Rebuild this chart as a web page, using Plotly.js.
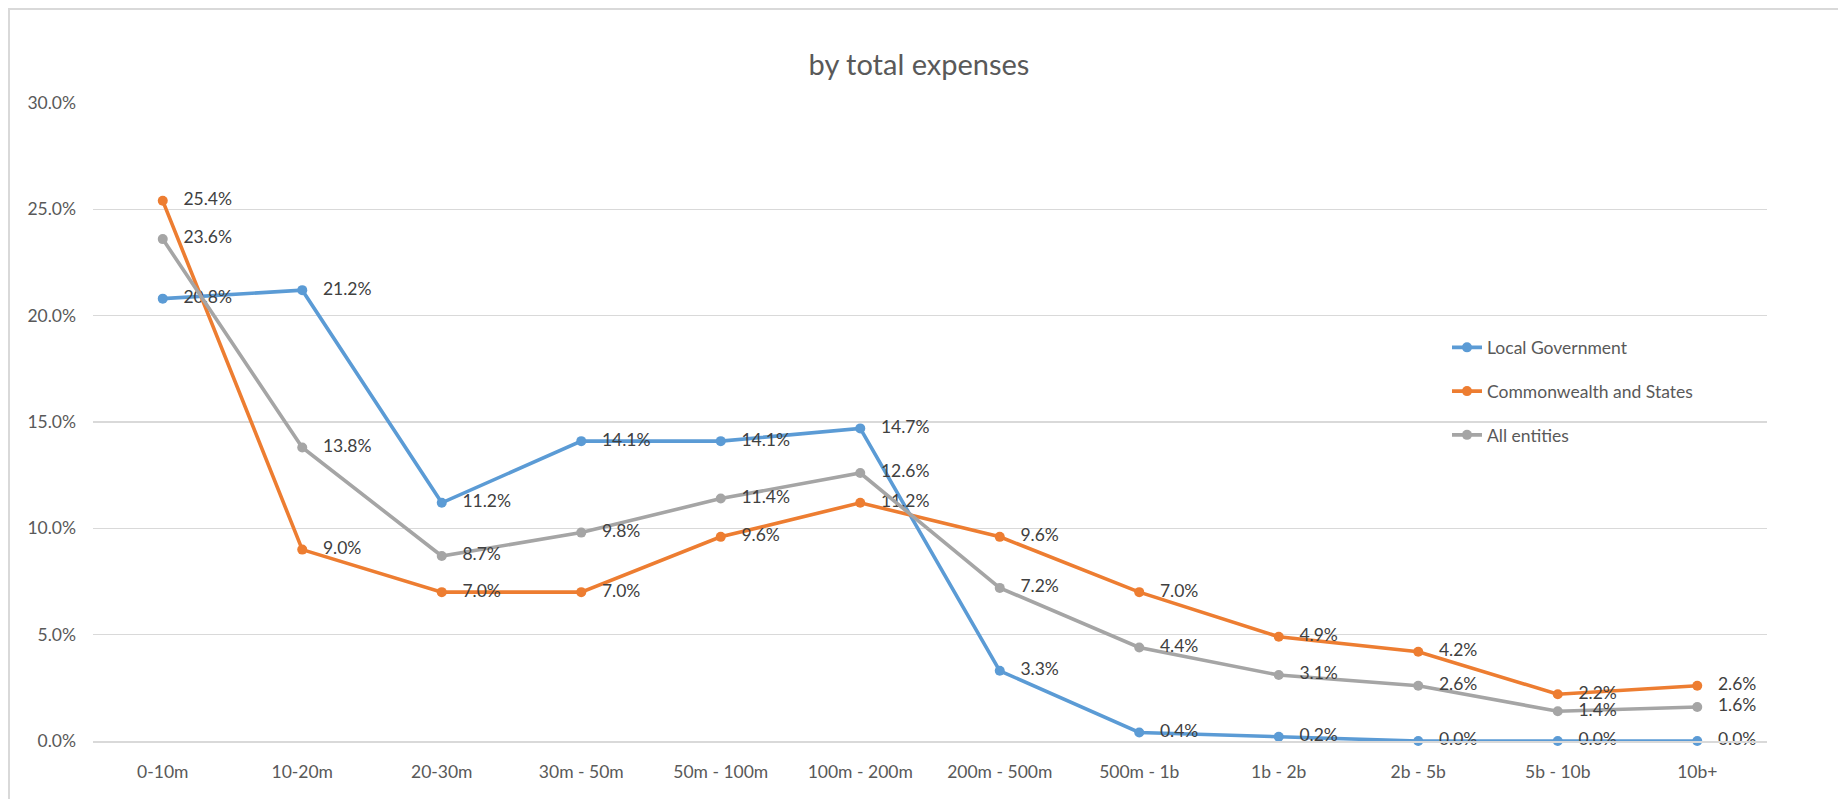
<!DOCTYPE html>
<html>
<head>
<meta charset="utf-8">
<script src="https://cdn.plot.ly/plotly-3.0.1.min.js"></script>
<style>
  html, body { margin: 0; padding: 0; background: #ffffff; }
  #wrap { position: relative; width: 1838px; height: 799px; overflow: hidden; }
  #chart { width: 1838px; height: 799px; }
  #frame { position: absolute; left: 8px; top: 8px; width: 1900px; height: 900px;
           border-left: 2px solid #d9d9d9; border-top: 2px solid #d9d9d9; pointer-events: none; }
</style>
</head>
<body>
<div id="wrap">
  <div id="chart"></div>
  <div id="frame"></div>
</div>
<script>
// Expense bands (x axis categories)
const categories = ["0-10m", "10-20m", "20-30m", "30m - 50m", "50m - 100m", "100m - 200m",
                    "200m - 500m", "500m - 1b", "1b - 2b", "2b - 5b", "5b - 10b", "10b+"];

// Share of entities in each band, in percent
const localGovernment = [20.8, 21.2, 11.2, 14.1, 14.1, 14.7, 3.3, 0.4, 0.2, 0.0, 0.0, 0.0];
const commonwealthStates = [25.4, 9.0, 7.0, 7.0, 9.6, 11.2, 9.6, 7.0, 4.9, 4.2, 2.2, 2.6];
const allEntities = [23.6, 13.8, 8.7, 9.8, 11.4, 12.6, 7.2, 4.4, 3.1, 2.6, 1.4, 1.6];

const seriesNames = ["Local Government", "Commonwealth and States", "All entities"];
const seriesColors = ["#5b9bd5", "#ed7d31", "#a5a5a5"];
const FONT = "Lato, 'Open Sans', sans-serif";
// small lead-in so the value labels sit a little clear of their markers
const LABEL_PAD = "\u00a0\u00a0\u00a0";

function lineTrace(name, values, color, group) {
  return {
    type: "scatter",
    mode: "lines+markers+text",
    name: name,
    legendgroup: group,
    x: categories,
    y: values,
    text: values.map(v => LABEL_PAD + v.toFixed(1) + "%"),
    textposition: "middle right",
    textfont: { family: FONT, size: 17.5, color: "#404040" },
    line: { color: color, width: 3.6 },
    marker: { color: color, size: 10, symbol: "circle" },
    cliponaxis: false,
    hoverinfo: "x+y+name"
  };
}

const traces = [
  lineTrace(seriesNames[0], localGovernment, seriesColors[0], "g1"),
  lineTrace(seriesNames[1], commonwealthStates, seriesColors[1], "g2"),
  lineTrace(seriesNames[2], allEntities, seriesColors[2], "g3")
];

const layout = {
  width: 1838,
  height: 799,
  margin: { l: 93, r: 71, t: 103, b: 58 },
  paper_bgcolor: "rgba(0,0,0,0)",
  plot_bgcolor: "#ffffff",
  font: { family: FONT, size: 17.5, color: "#595959" },
  title: {
    text: "by total expenses",
    font: { family: FONT, size: 29, color: "#595959" },
    x: 0.5, xanchor: "center",
    y: 1 - 65 / 799, yref: "container", yanchor: "middle"
  },
  xaxis: {
    type: "category",
    range: [-0.5, 11.5],
    showgrid: false,
    showline: true,
    linecolor: "#d9d9d9",
    linewidth: 1.5,
    ticks: "",
    ticklabelstandoff: 14,
    tickfont: { family: FONT, size: 17.5, color: "#595959" },
    fixedrange: true
  },
  yaxis: {
    range: [0, 30],
    tickvals: [0, 5, 10, 15, 20, 25, 30],
    ticktext: ["0.0%", "5.0%", "10.0%", "15.0%", "20.0%", "25.0%", "30.0%"],
    showgrid: true,
    gridcolor: "#d9d9d9",
    gridwidth: 1.5,
    zeroline: false,
    showline: false,
    ticks: "",
    ticklabelstandoff: 16,
    tickfont: { family: FONT, size: 17.5, color: "#595959" },
    fixedrange: true
  },
  showlegend: true,
  legend: {
    x: (1447 - 93) / 1674,
    xanchor: "left",
    y: 0.645,
    yanchor: "top",
    bgcolor: "rgba(0,0,0,0)",
    font: { family: FONT, size: 17.5, color: "#595959" },
    traceorder: "grouped",
    tracegroupgap: 18
  }
};

Plotly.newPlot("chart", traces, layout, { displayModeBar: false, staticPlot: true });
</script>
</body>
</html>
